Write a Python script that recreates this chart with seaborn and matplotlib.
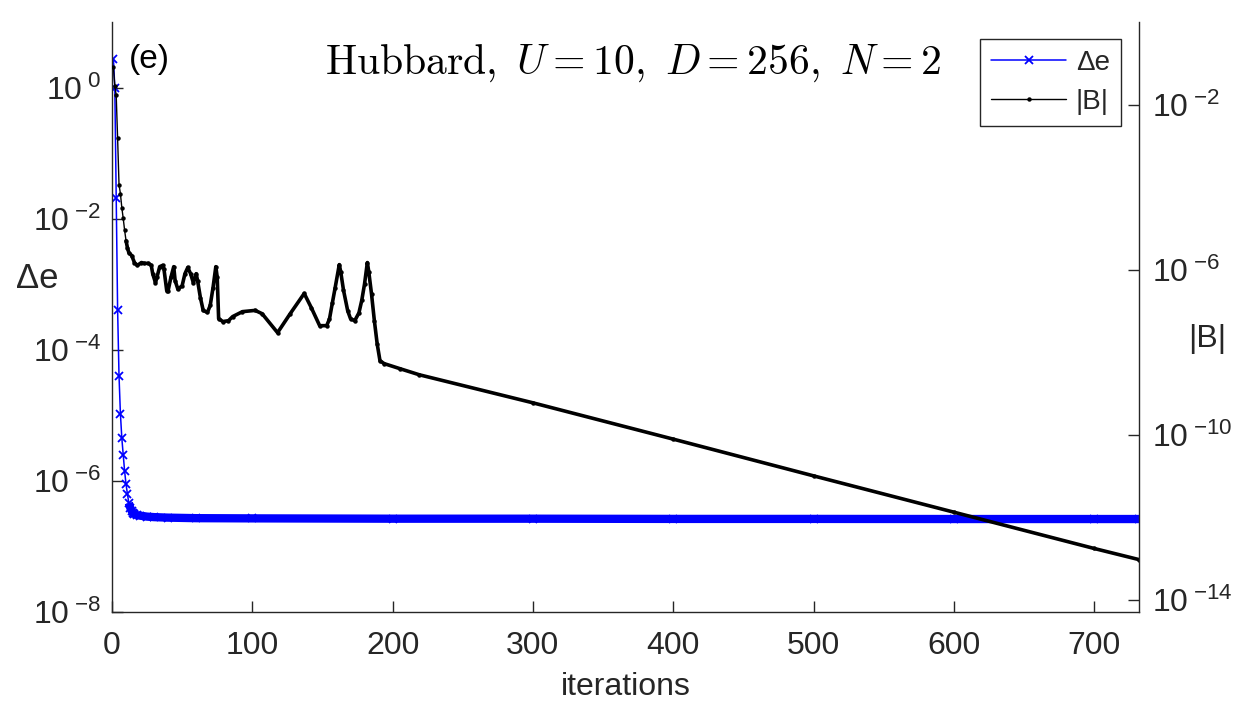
import matplotlib
matplotlib.use("Agg")
import matplotlib.pyplot as plt
import matplotlib.ticker as ticker
import numpy as np
import seaborn as sns

# Delta e per iteration (left axis)
de_iter = [1, 2, 3, 4, 5, 6, 7, 8, 9, 10, 11, 12, 13, 14, 15, 16, 18, 20, 25,
           30, 40, 60, 100, 200, 300, 400, 500, 600, 700, 732]
de_vals = [2.76, 1.0, 2.1e-2, 4.1e-4, 4.0e-5, 1.05e-5, 4.5e-6, 2.5e-6, 1.4e-6,
           8.9e-7, 6.3e-7, 4.6e-7, 3.9e-7, 3.5e-7, 3.2e-7, 3.1e-7, 3.0e-7,
           2.95e-7, 2.85e-7, 2.8e-7, 2.75e-7, 2.7e-7, 2.68e-7, 2.65e-7,
           2.65e-7, 2.63e-7, 2.63e-7, 2.62e-7, 2.62e-7, 2.62e-7]

# |B| per iteration (right axis), stored as log10
b_iter = [1, 2, 3, 4, 5, 6, 7, 8, 9, 10, 11, 12, 14, 16, 18, 21, 23, 26, 28,
          29, 31, 32, 34, 36, 37, 39, 40, 42, 44, 45, 47, 50, 52, 54, 56, 58,
          60, 61, 63, 65, 68, 70, 72, 74, 75, 76, 79, 83, 86, 93, 102, 107,
          118, 127, 137, 142, 148, 153, 155, 157, 159, 162, 163, 165, 168,
          170, 173, 176, 178, 180, 182, 183, 185, 187, 189, 191, 194, 205,
          219, 300, 400, 500, 600, 700, 732]
b_log10 = [-1.10, -1.54, -1.78, -2.82, -3.94, -4.16, -4.50, -4.76, -5.05,
           -5.30, -5.47, -5.59, -5.66, -5.83, -5.90, -5.83, -5.85, -5.85,
           -5.90, -6.10, -6.32, -6.19, -5.93, -5.90, -5.98, -6.51, -6.51,
           -6.19, -5.93, -6.27, -6.48, -6.39, -6.10, -5.95, -6.10, -6.32,
           -6.10, -6.27, -6.68, -6.99, -7.04, -6.87, -6.44, -5.93, -6.19,
           -7.19, -7.26, -7.24, -7.14, -7.02, -6.99, -7.07, -7.53, -7.07,
           -6.58, -6.92, -7.36, -7.36, -7.20, -6.82, -6.45, -5.88, -6.05,
           -6.50, -7.00, -7.19, -7.24, -7.05, -6.75, -6.35, -5.83, -6.05,
           -6.60, -7.24, -7.80, -8.21, -8.28, -8.40, -8.55, -9.23, -10.11,
           -11.00, -11.88, -12.76, -13.03]
b_vals = 10.0 ** np.array(b_log10)

x_ticks = [0, 100, 200, 300, 400, 500, 600, 700]
left_ticks = [1e-8, 1e-6, 1e-4, 1e-2, 1e0]
right_ticks = [1e-14, 1e-10, 1e-6, 1e-2]

sns.set_theme(style="white")
plt.rcParams["font.family"] = ["Liberation Sans", "DejaVu Sans"]
plt.rcParams["mathtext.fontset"] = "custom"
plt.rcParams["mathtext.rm"] = "Liberation Sans"
plt.rcParams["mathtext.it"] = "Liberation Sans:italic"
plt.rcParams["mathtext.bf"] = "Liberation Sans:bold"

grey = "#262626"
fs = 23

fig = plt.figure(figsize=(12.5, 7.05), dpi=100)
ax = fig.add_axes([112 / 1250, 1 - 612 / 705, 1027 / 1250, 590 / 705])
ax.set_yscale("log")
ax2 = ax.twinx()
ax2.set_yscale("log")

# thick band made by the dense markers, then the thin line with markers
n_dense = 11
sns.lineplot(x=de_iter[n_dense:], y=de_vals[n_dense:], ax=ax, color="#0000ff",
             linewidth=6, solid_capstyle="butt")
sns.lineplot(x=de_iter, y=de_vals, ax=ax, color="#0000ff", linewidth=1.1,
             marker="x", markersize=6, markeredgewidth=1.3,
             markeredgecolor="#0000ff")
blue_line = ax.lines[-1]

nb_dense = 9
sns.lineplot(x=b_iter[nb_dense:], y=b_vals[nb_dense:], ax=ax2, color="black",
             linewidth=2.6)
sns.lineplot(x=b_iter, y=b_vals, ax=ax2, color="black", linewidth=1.0,
             marker="o", markersize=3.2, markeredgewidth=0)
black_line = ax2.lines[-1]

ax.set_xlim(0, 732)
ax.set_ylim(1e-8, 10)
ax2.set_ylim(10 ** -14.3, 1)

ax.set_xticks(x_ticks)
ax.yaxis.set_major_locator(ticker.FixedLocator(left_ticks))
ax2.yaxis.set_major_locator(ticker.FixedLocator(right_ticks))
ax.yaxis.set_minor_locator(ticker.NullLocator())
ax2.yaxis.set_minor_locator(ticker.NullLocator())
fmt = ticker.FuncFormatter(lambda v, p: r"$10^{\;{%d}}$" % round(np.log10(v)))
ax.yaxis.set_major_formatter(fmt)
ax2.yaxis.set_major_formatter(fmt)

for a in (ax, ax2):
    a.spines["top"].set_visible(False)
    for s in a.spines.values():
        s.set_color(grey)
        s.set_linewidth(1.0)
ax.spines["right"].set_visible(False)
ax2.spines["left"].set_visible(False)
ax2.spines["bottom"].set_visible(False)

ax.tick_params(axis="x", direction="in", length=8, width=1, color=grey,
               labelcolor=grey, labelsize=fs, pad=14, top=False, bottom=True)
ax.tick_params(axis="y", direction="in", length=8, width=1, color=grey,
               labelcolor=grey, labelsize=fs, pad=8, left=True, right=False)
ax2.tick_params(axis="y", direction="in", length=8, width=1, color=grey,
                labelcolor=grey, labelsize=fs, pad=9, right=True, left=False)

ax.set_xlabel("iterations", fontsize=fs, color=grey)
ax.xaxis.set_label_coords(0.5, -0.127)
ax.xaxis.label.set_va("center")
ax.set_ylabel("Δe", fontsize=25, color=grey, rotation=0, ha="center", va="center")
ax.yaxis.set_label_coords(-0.073, 0.566)
ax2.set_ylabel("|B|", fontsize=fs, color=grey, rotation=0, ha="center", va="center")
ax2.yaxis.set_label_coords(1.066, 0.463)

ax.text(0.016, 0.962, "(e)", transform=ax.transAxes, fontsize=24, color="black",
        ha="left", va="top")
ax2.text(0.507, 0.912, r"$\mathrm{Hubbard,}\ U=10,\ D=256,\ N=2$",
         transform=ax.transAxes, fontsize=30, color="black", ha="center",
         va="baseline", math_fontfamily="cm")

leg = ax2.legend([blue_line, black_line], ["Δe", "|B|"], loc="upper right",
                 bbox_to_anchor=(0.9825, 0.971), borderaxespad=0, fontsize=20,
                 frameon=True, fancybox=False, framealpha=1, edgecolor=grey,
                 handlelength=2.7, handletextpad=0.35, borderpad=0.4,
                 labelspacing=0.45, numpoints=1)
leg.get_frame().set_linewidth(1.0)

fig.savefig("out.png", dpi=100)
